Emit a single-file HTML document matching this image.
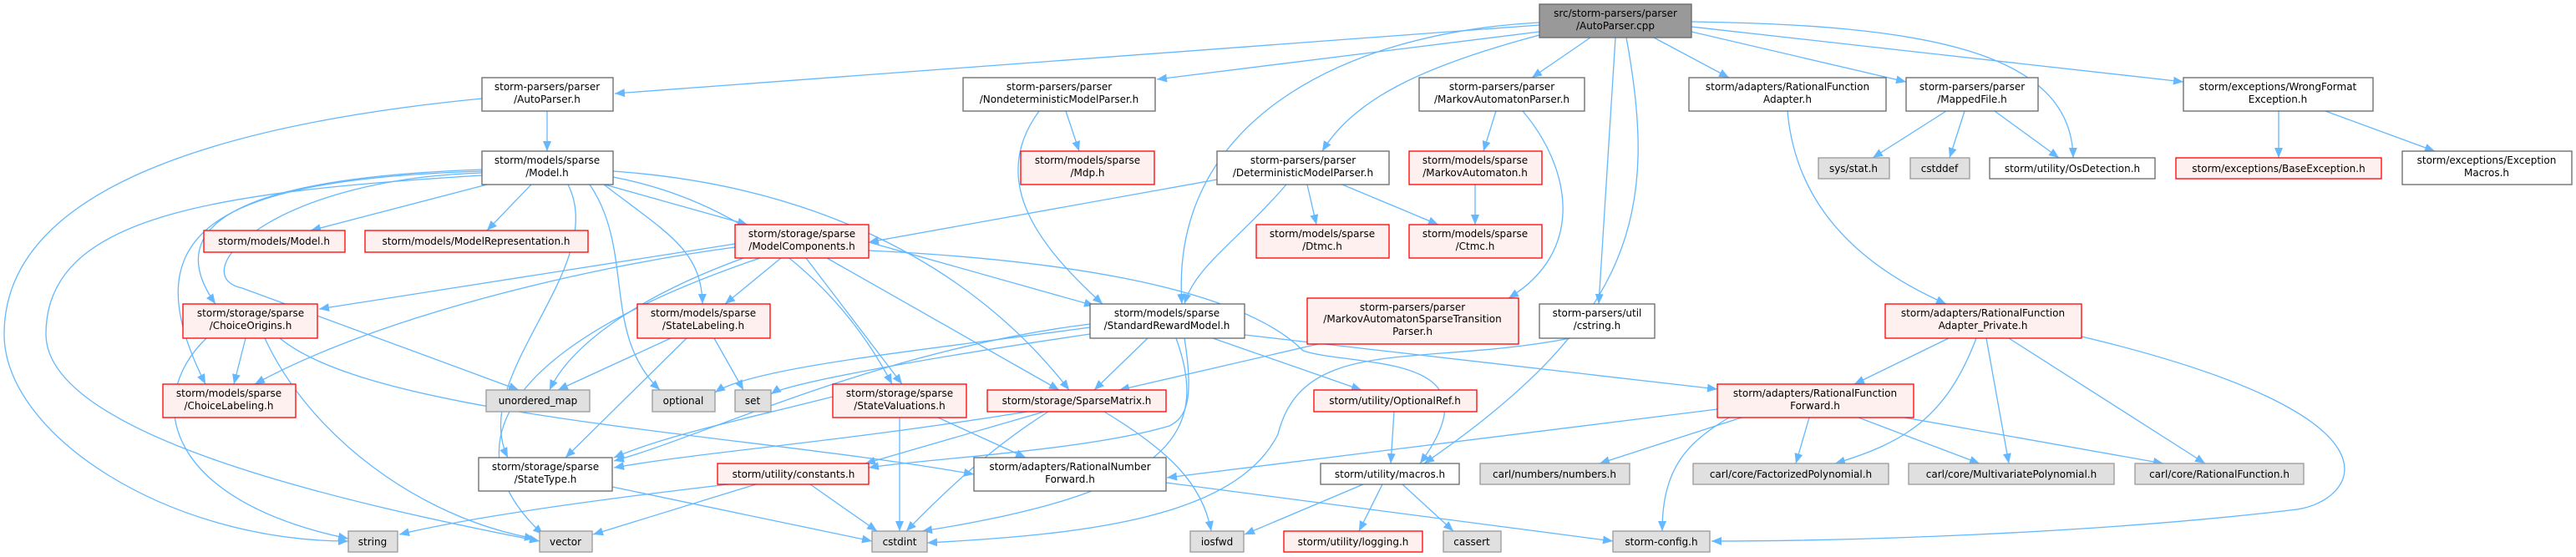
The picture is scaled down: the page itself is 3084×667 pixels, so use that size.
<!DOCTYPE html>
<html><head><meta charset="utf-8"><style>
html,body{margin:0;padding:0;background:#fff;}
svg{display:block;}
text{font-family:"DejaVu Sans","Liberation Sans",sans-serif;font-size:12px;fill:#000;text-anchor:middle;}
.w{fill:#fff;stroke:#666;stroke-width:1.3}
.r{fill:#fff0f0;stroke:#f00;stroke-width:1.3}
.g{fill:#e0e0e0;stroke:#999;stroke-width:1.3}
.c{fill:#999;stroke:#666;stroke-width:1.3}
.e path{fill:none;stroke:#63b8ff;stroke-width:1.3;marker-end:url(#a)}
</style></head><body>
<svg width="3084" height="667" viewBox="0 0 3084 667" xmlns="http://www.w3.org/2000/svg">
<defs><marker id="a" markerUnits="userSpaceOnUse" markerWidth="14" markerHeight="10" refX="12" refY="5" orient="auto"><path d="M0,0 L12,5 L0,10 z" fill="#63b8ff"/></marker></defs>
<g class="e">
<path d="M1843 30 L736 112"/>
<path d="M1843 38 L1385 95"/>
<path d="M1843 42 C1700 80,1620 120,1583 181"/>
<path d="M1904 45 L1834 93"/>
<path d="M1843 27 C1600 40,1400 150,1415 364"/>
<path d="M1934 45 L1914 364"/>
<path d="M1947 45 C1985 250,1960 380,1705 555"/>
<path d="M1980 45 L2070 93"/>
<path d="M2025 38 L2282 98"/>
<path d="M2025 26 C2300 30,2480 60,2482 189"/>
<path d="M2025 32 L2614 98"/>
<path d="M655 133 L655 181"/>
<path d="M577 118 C250 150,5 230,5 400 C5 520,200 648,417 648"/>
<path d="M583 221 L372 276"/>
<path d="M636 221 L583 276"/>
<path d="M724 221 L895 269"/>
<path d="M577 203 C380 210,170 240,258 364"/>
<path d="M577 205 C250 215,155 280,246 460"/>
<path d="M577 207 C320 215,220 330,290 345 L621 467"/>
<path d="M577 210 C250 230,55 260,55 400 C55 520,400 600,646 648"/>
<path d="M680 221 C730 320,560 450,608 548"/>
<path d="M706 221 C760 300,720 400,790 467"/>
<path d="M723 221 C800 280,840 300,841 364"/>
<path d="M734 205 C950 220,1150 300,1280 467"/>
<path d="M734 212 C880 240,1000 330,1068 460"/>
<path d="M880 292 L382 370"/>
<path d="M880 296 C700 320,450 380,305 460"/>
<path d="M890 309 C750 360,680 420,658 467"/>
<path d="M935 309 L868 364"/>
<path d="M910 309 C640 400,520 520,650 640"/>
<path d="M965 309 L1080 460"/>
<path d="M990 309 L1268 467"/>
<path d="M1040 290 L1310 366"/>
<path d="M1040 300 C1250 310,1480 340,1560 420 C1620 440,1800 420,1700 555"/>
<path d="M294 405 L280 460"/>
<path d="M247 405 C170 480,200 600,417 645"/>
<path d="M317 405 C370 520,500 620,640 645"/>
<path d="M335 405 C450 500,900 520,1166 568"/>
<path d="M803 405 L668 467"/>
<path d="M855 405 L890 467"/>
<path d="M822 405 L677 548"/>
<path d="M1276 133 L1292 181"/>
<path d="M1244 133 C1180 220,1250 300,1320 364"/>
<path d="M1457 215 L1040 290"/>
<path d="M1540 221 C1480 290,1430 320,1418 364"/>
<path d="M1565 221 L1576 269"/>
<path d="M1607 221 L1722 269"/>
<path d="M1791 133 L1776 181"/>
<path d="M1823 133 C1880 200,1900 300,1806 357"/>
<path d="M1766 221 L1766 269"/>
<path d="M1578 412 L1340 467"/>
<path d="M1880 405 C1700 440,1560 400,1530 520 C1480 620,1300 640,1110 650"/>
<path d="M1305 392 C1100 420,900 440,856 470"/>
<path d="M1305 400 C1100 430,940 460,923 472"/>
<path d="M1374 405 L1310 467"/>
<path d="M1452 405 L1630 467"/>
<path d="M1490 401 L2056 466"/>
<path d="M1418 405 C1430 480,1420 500,1400 510 C1300 540,1100 550,1040 560"/>
<path d="M1408 405 C1450 520,1400 590,1104 636"/>
<path d="M1305 388 C1050 420,850 520,735 552"/>
<path d="M1230 493 C1000 530,850 540,735 560"/>
<path d="M1250 493 L1036 555"/>
<path d="M1255 493 C1180 540,1120 600,1085 636"/>
<path d="M1322 493 C1400 540,1440 580,1450 636"/>
<path d="M997 475 C900 500,800 520,735 548"/>
<path d="M1077 500 L1077 636"/>
<path d="M1123 500 L1228 548"/>
<path d="M1669 493 L1665 555"/>
<path d="M872 580 C700 600,560 620,478 640"/>
<path d="M905 580 L710 640"/>
<path d="M970 580 L1050 636"/>
<path d="M733 583 L1044 648"/>
<path d="M1396 578 L1931 648"/>
<path d="M1632 580 L1490 640"/>
<path d="M1655 580 L1627 636"/>
<path d="M1679 580 L1740 636"/>
<path d="M2056 490 L1397 572"/>
<path d="M2085 500 L1915 555"/>
<path d="M2166 500 L2150 555"/>
<path d="M2225 500 L2370 555"/>
<path d="M2280 500 L2590 555"/>
<path d="M2070 500 C2020 530,1990 560,1990 636"/>
<path d="M2140 133 C2150 250,2230 320,2330 364"/>
<path d="M2333 405 L2220 460"/>
<path d="M2366 405 C2330 500,2280 530,2197 555"/>
<path d="M2378 405 L2405 555"/>
<path d="M2405 405 L2640 555"/>
<path d="M2492 403 C2900 500,2820 600,2750 610 C2500 640,2200 648,2049 648"/>
<path d="M2330 133 L2242 189"/>
<path d="M2352 133 L2334 189"/>
<path d="M2388 133 L2465 189"/>
<path d="M2728 133 L2728 189"/>
<path d="M2784 133 L2915 181"/>
</g>
<g>
<rect class="c" x="1843" y="5" width="182" height="40"/><text x="1934" y="20">src/storm-parsers/parser</text><text x="1934" y="35">/AutoParser.cpp</text>
<rect class="w" x="577" y="93" width="157" height="40"/><text x="655" y="108">storm-parsers/parser</text><text x="655" y="123">/AutoParser.h</text>
<rect class="w" x="577" y="181" width="157" height="40"/><text x="655" y="196">storm/models/sparse</text><text x="655" y="211">/Model.h</text>
<rect class="r" x="244" y="276" width="169" height="26"/><text x="328" y="293">storm/models/Model.h</text>
<rect class="r" x="437" y="276" width="267" height="26"/><text x="570" y="293">storm/models/ModelRepresentation.h</text>
<rect class="r" x="880" y="269" width="160" height="40"/><text x="960" y="284">storm/storage/sparse</text><text x="960" y="299">/ModelComponents.h</text>
<rect class="r" x="219" y="364" width="161" height="41"/><text x="300" y="379">storm/storage/sparse</text><text x="300" y="394">/ChoiceOrigins.h</text>
<rect class="r" x="195" y="460" width="159" height="40"/><text x="274" y="475">storm/models/sparse</text><text x="274" y="490">/ChoiceLabeling.h</text>
<rect class="g" x="582" y="467" width="124" height="26"/><text x="644" y="484">unordered_map</text>
<rect class="r" x="763" y="364" width="159" height="41"/><text x="842" y="379">storm/models/sparse</text><text x="842" y="394">/StateLabeling.h</text>
<rect class="g" x="781" y="467" width="75" height="26"/><text x="818" y="484">optional</text>
<rect class="g" x="880" y="467" width="43" height="26"/><text x="901" y="484">set</text>
<rect class="w" x="573" y="548" width="160" height="40"/><text x="653" y="563">storm/storage/sparse</text><text x="653" y="578">/StateType.h</text>
<rect class="r" x="859" y="555" width="181" height="25"/><text x="950" y="572">storm/utility/constants.h</text>
<rect class="g" x="417" y="636" width="59" height="25"/><text x="446" y="653">string</text>
<rect class="g" x="646" y="636" width="63" height="25"/><text x="677" y="653">vector</text>
<rect class="r" x="997" y="460" width="160" height="40"/><text x="1077" y="475">storm/storage/sparse</text><text x="1077" y="490">/StateValuations.h</text>
<rect class="w" x="1153" y="93" width="230" height="40"/><text x="1268" y="108">storm-parsers/parser</text><text x="1268" y="123">/NondeterministicModelParser.h</text>
<rect class="w" x="1699" y="93" width="198" height="40"/><text x="1798" y="108">storm-parsers/parser</text><text x="1798" y="123">/MarkovAutomatonParser.h</text>
<rect class="r" x="1222" y="181" width="160" height="40"/><text x="1302" y="196">storm/models/sparse</text><text x="1302" y="211">/Mdp.h</text>
<rect class="w" x="1457" y="181" width="206" height="40"/><text x="1560" y="196">storm-parsers/parser</text><text x="1560" y="211">/DeterministicModelParser.h</text>
<rect class="r" x="1687" y="181" width="159" height="40"/><text x="1766" y="196">storm/models/sparse</text><text x="1766" y="211">/MarkovAutomaton.h</text>
<rect class="r" x="1504" y="269" width="159" height="40"/><text x="1583" y="284">storm/models/sparse</text><text x="1583" y="299">/Dtmc.h</text>
<rect class="r" x="1687" y="269" width="159" height="40"/><text x="1766" y="284">storm/models/sparse</text><text x="1766" y="299">/Ctmc.h</text>
<rect class="w" x="2022" y="93" width="236" height="40"/><text x="2140" y="108">storm/adapters/RationalFunction</text><text x="2140" y="123">Adapter.h</text>
<rect class="w" x="1305" y="364" width="185" height="41"/><text x="1397" y="379">storm/models/sparse</text><text x="1397" y="394">/StandardRewardModel.h</text>
<rect class="r" x="1565" y="357" width="253" height="55"/><text x="1691" y="372">storm-parsers/parser</text><text x="1691" y="386">/MarkovAutomatonSparseTransition</text><text x="1691" y="401">Parser.h</text>
<rect class="w" x="1843" y="364" width="138" height="41"/><text x="1912" y="379">storm-parsers/util</text><text x="1912" y="394">/cstring.h</text>
<rect class="r" x="1182" y="467" width="214" height="26"/><text x="1289" y="484">storm/storage/SparseMatrix.h</text>
<rect class="r" x="1573" y="467" width="195" height="26"/><text x="1670" y="484">storm/utility/OptionalRef.h</text>
<rect class="r" x="2056" y="460" width="235" height="40"/><text x="2173" y="475">storm/adapters/RationalFunction</text><text x="2173" y="490">Forward.h</text>
<rect class="w" x="1166" y="548" width="230" height="40"/><text x="1281" y="563">storm/adapters/RationalNumber</text><text x="1281" y="578">Forward.h</text>
<rect class="w" x="1581" y="555" width="166" height="25"/><text x="1664" y="572">storm/utility/macros.h</text>
<rect class="g" x="1772" y="555" width="179" height="25"/><text x="1861" y="572">carl/numbers/numbers.h</text>
<rect class="g" x="2027" y="555" width="234" height="25"/><text x="2144" y="572">carl/core/FactorizedPolynomial.h</text>
<rect class="g" x="1044" y="636" width="66" height="25"/><text x="1077" y="653">cstdint</text>
<rect class="g" x="1425" y="636" width="64" height="25"/><text x="1457" y="653">iosfwd</text>
<rect class="r" x="1537" y="636" width="166" height="25"/><text x="1620" y="653">storm/utility/logging.h</text>
<rect class="g" x="1728" y="636" width="69" height="25"/><text x="1762" y="653">cassert</text>
<rect class="g" x="1931" y="636" width="116" height="25"/><text x="1989" y="653">storm-config.h</text>
<rect class="w" x="2282" y="93" width="158" height="40"/><text x="2361" y="108">storm-parsers/parser</text><text x="2361" y="123">/MappedFile.h</text>
<rect class="w" x="2614" y="93" width="227" height="40"/><text x="2727" y="108">storm/exceptions/WrongFormat</text><text x="2727" y="123">Exception.h</text>
<rect class="g" x="2177" y="189" width="85" height="25"/><text x="2219" y="206">sys/stat.h</text>
<rect class="g" x="2287" y="189" width="71" height="25"/><text x="2322" y="206">cstddef</text>
<rect class="w" x="2382" y="189" width="198" height="25"/><text x="2481" y="206">storm/utility/OsDetection.h</text>
<rect class="r" x="2605" y="189" width="246" height="25"/><text x="2728" y="206">storm/exceptions/BaseException.h</text>
<rect class="w" x="2876" y="181" width="203" height="40"/><text x="2977" y="196">storm/exceptions/Exception</text><text x="2977" y="211">Macros.h</text>
<rect class="r" x="2257" y="364" width="235" height="41"/><text x="2374" y="379">storm/adapters/RationalFunction</text><text x="2374" y="394">Adapter_Private.h</text>
<rect class="g" x="2285" y="555" width="246" height="25"/><text x="2408" y="572">carl/core/MultivariatePolynomial.h</text>
<rect class="g" x="2556" y="555" width="202" height="25"/><text x="2657" y="572">carl/core/RationalFunction.h</text>
</g>
</svg>
</body></html>
